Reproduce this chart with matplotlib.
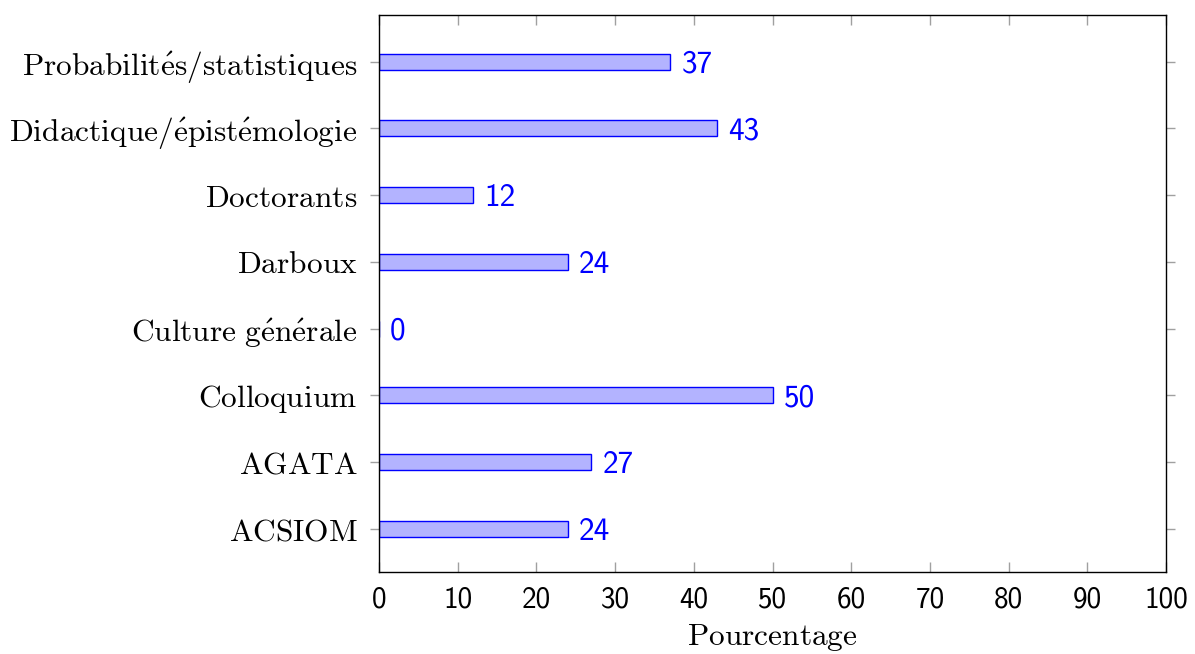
import matplotlib
matplotlib.use("Agg")
import matplotlib.pyplot as plt

plt.rcParams["mathtext.fontset"] = "cm"

categories = ["ACSIOM", "AGATA", "Colloquium", "Culture générale",
              "Darboux", "Doctorants", "Didactique/épistémologie",
              "Probabilités/statistiques"]
values = [24, 27, 50, 0, 24, 12, 43, 37]
xticks = [0, 10, 20, 30, 40, 50, 60, 70, 80, 90, 100]


def tex(s):
    # cmr10 has no é, so go through mathtext with \acute
    s = s.replace(" ", r"\ ").replace("é", r"\acute{e}")
    return r"$\mathrm{" + s + "}$"


sans = ["cmss10", "DejaVu Sans"]
blue = "#0000ff"

fig = plt.figure(figsize=(11.95, 6.54), dpi=100)
ax = fig.add_axes([379 / 1195, 1 - 572 / 654, (1166 - 379) / 1195, (572 - 15) / 654])

ypos = list(range(len(categories)))
ax.barh(ypos, values, height=0.24, color="#b3b3ff", edgecolor=blue, linewidth=1.0, zorder=2)

for y, v in zip(ypos, values):
    ax.annotate(str(v), xy=(v, y), xytext=(8, -1.8), textcoords="offset points",
                ha="left", va="center", color=blue, fontsize=22.5, family=sans)

ax.set_xlim(0, 100)
ax.set_ylim(-0.645, 7.7)
ax.set_xticks(xticks)
ax.set_xticklabels([str(t) for t in xticks], family=sans, fontsize=21)
ax.set_yticks(ypos)
ax.set_yticklabels([tex(c) for c in categories], fontsize=22.6)

ax.tick_params(axis="x", direction="in", top=True, bottom=True, length=7,
               width=1, color="#a0a0a0", pad=10.5)
ax.tick_params(axis="y", direction="out", left=True, right=True, length=6.5,
               width=1, color="#a0a0a0", pad=9)
for s in ax.spines.values():
    s.set_linewidth(1.0)
    s.set_color("black")

ax.set_xlabel(tex("Pourcentage"), fontsize=22.6, labelpad=6)

fig.savefig("out.png", dpi=100)
